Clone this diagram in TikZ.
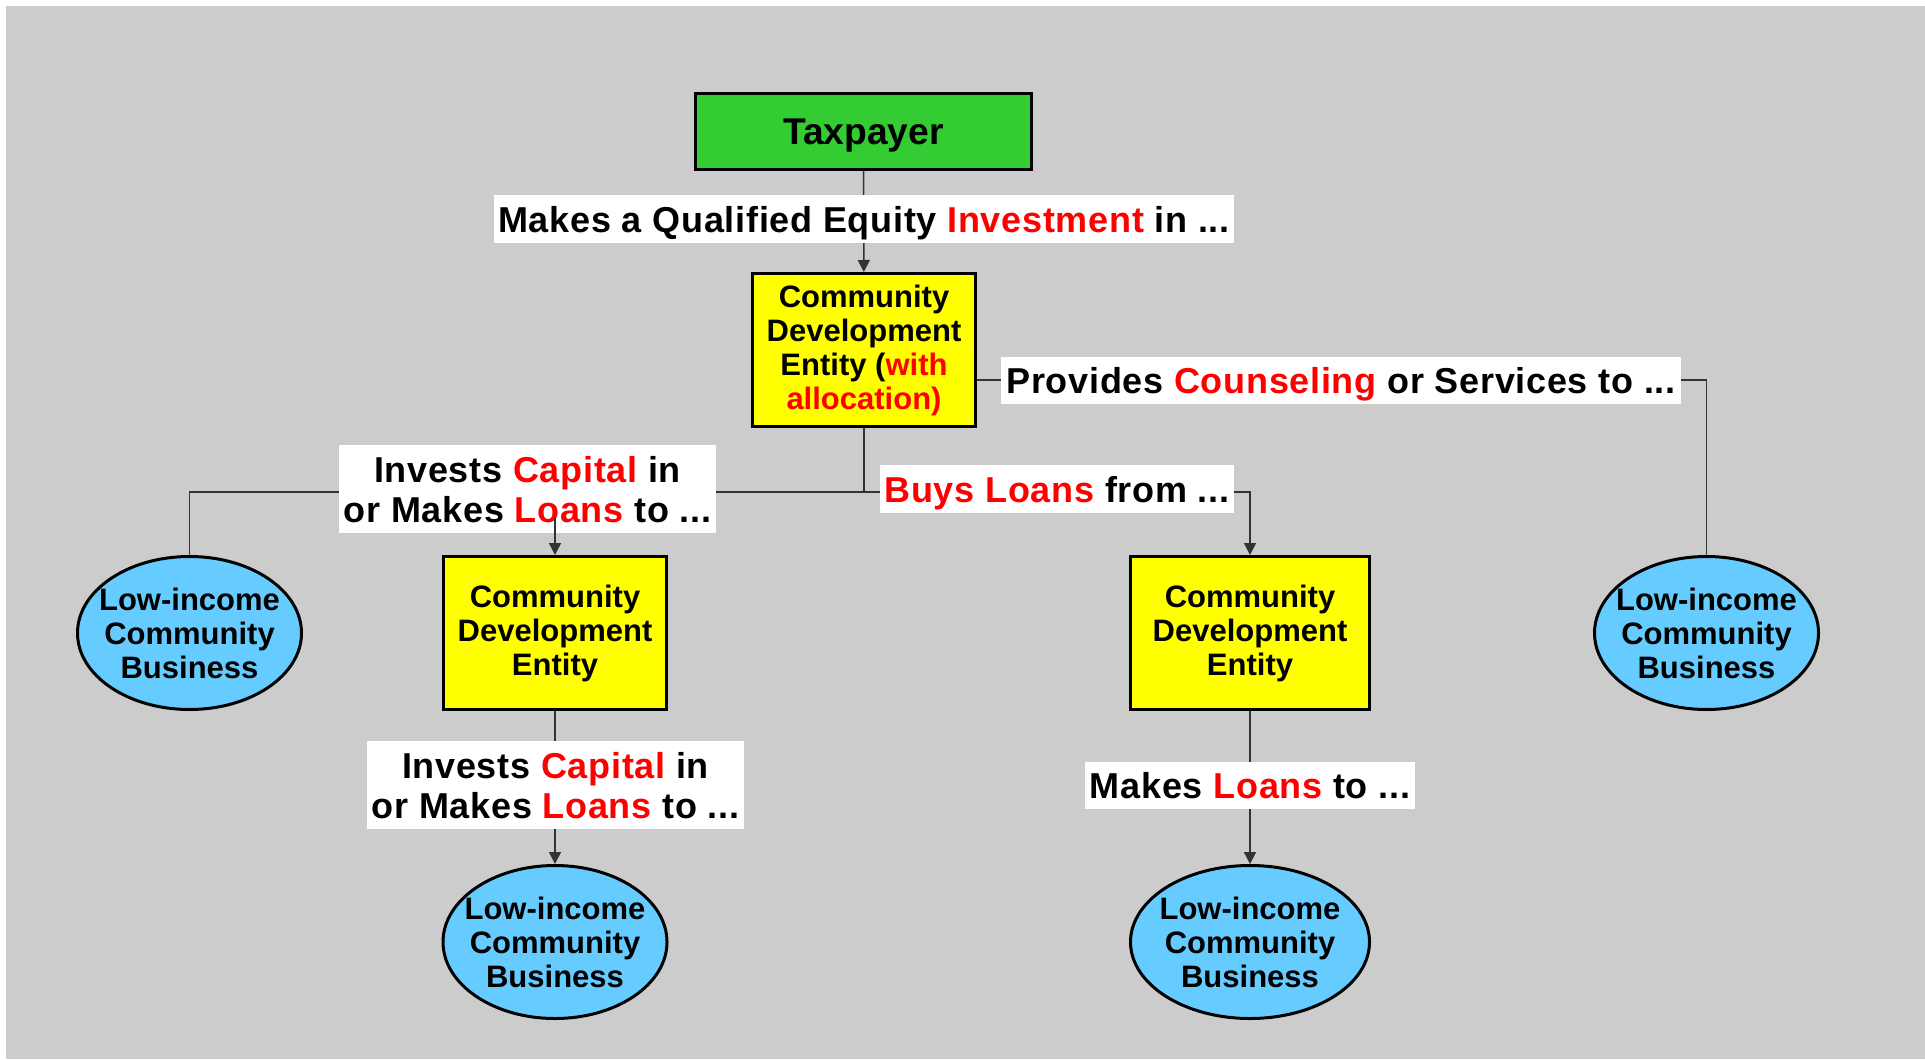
\documentclass[tikz,border=0pt]{standalone}
\usepackage{fontspec}
\setmainfont{Liberation Sans}
\newfontfamily\tagfamily[LetterSpace=2]{Liberation Sans}
\usetikzlibrary{positioning,arrows.meta,shapes.geometric,backgrounds}

\definecolor{backgray}{RGB}{204,204,204}
\definecolor{taxgreen}{RGB}{51,204,51}
\definecolor{cdeyellow}{RGB}{255,255,0}
\definecolor{bizblue}{RGB}{102,204,255}
\definecolor{keyred}{RGB}{255,0,0}

\newcommand{\keyword}[1]{\textcolor{keyred}{#1}}
\newcommand{\taxfont}{\fontsize{18.6}{22}\selectfont\bfseries}
\newcommand{\boxfont}{\fontsize{15.5}{17}\selectfont\bfseries}
\newcommand{\tagfont}{\tagfamily\fontsize{18}{20}\selectfont\bfseries}

\begin{document}
\begin{tikzpicture}[x=0.5pt, y=-0.5pt, >={Triangle[length=6pt,width=6pt]},
  box/.style={draw, line width=1.5pt, inner sep=0pt, align=center, font=\boxfont},
  cde/.style={box, fill=cdeyellow, minimum height=76.5pt},
  biz/.style={ellipse, draw, line width=1.5pt, fill=bizblue, align=center,
    font=\boxfont, inner xsep=-15pt, inner ysep=0pt,
    minimum width=112pt, minimum height=76.5pt},
  tag/.style={fill=white, inner sep=0pt, align=center, font=\tagfont, text depth=0pt},
  link/.style={line width=0.75pt, black!80}
]

%--- Page ---
\useasboundingbox (0,0) rectangle (1925,1059);

%--- Boxes ---
\node[box, fill=taxgreen, minimum width=168pt, minimum height=38pt, font=\taxfont,
  text depth=0pt] (tax) at (863.5,131.5) {Taxpayer};
\node[cde, minimum width=111.5pt] (cde) at (864,350)
  {Community\\Development\\Entity (\keyword{with}\\\keyword{allocation)}};
\node[cde, minimum width=111.5pt] (lcde) at (555,633) {Community\\Development\\Entity};
\node[cde, minimum width=119.5pt] (rcde) at (1250,633) {Community\\Development\\Entity};

% low-income businesses
\node[biz] (lbiz) at (189.5,633) {Low-income\\Community\\Business};
\node[biz] (rbiz) at (1706.5,633) {Low-income\\Community\\Business};
\node[biz] (lbot) at (555,942) {Low-income\\Community\\Business};
\node[biz, minimum width=119.5pt] (rbot) at (1250,942) {Low-income\\Community\\Business};

%--- Labels on the links ---
\node[tag, minimum width=370pt, minimum height=24pt] (invest) at (864,219)
  {Makes a Qualified Equity \keyword{Investment} in ...};
\node[tag, minimum width=340pt, minimum height=23.5pt] (counsel) at (1341,380)
  {Provides \keyword{Counseling} or Services to ...};
\node[tag, minimum width=188.5pt, minimum height=44pt] (capital) at (527.5,489)
  {Invests \keyword{Capital} in\\or Makes \keyword{Loans} to ...};
\node[tag, minimum width=177pt, minimum height=24pt] (buys) at (1057,489)
  {\keyword{Buys Loans} from ...};
\node[tag, minimum width=188.5pt, minimum height=44pt] (capital2) at (555.5,785)
  {Invests \keyword{Capital} in\\or Makes \keyword{Loans} to ...};
\node[tag, minimum width=165pt, minimum height=23.5pt] (lend) at (1250,785.5)
  {Makes \keyword{Loans} to ...};

%--- Links (under the labels) ---
\coordinate (split) at (864,492);
\coordinate (tap) at (555,518);
\begin{scope}[on background layer]
  \fill[white] (0,0) rectangle (1925,1059);
  \fill[backgray] (6,6) rectangle (1925,1059);
  \draw[link,->] (tax) -- (cde);
  \draw[link] (cde) -- (split);
  \draw[link,->] (lbiz.north) |- (split) -| (rcde.north);
  \draw[link] (cde.east |- counsel) -| (rbiz.north);
  \draw[link,->] (lcde) -- (lbot);
  \draw[link,->] (rcde) -- (rbot);
\end{scope}

% this one runs over its label
\draw[link,->] (tap) -- (lcde.north);

\end{tikzpicture}
\end{document}
